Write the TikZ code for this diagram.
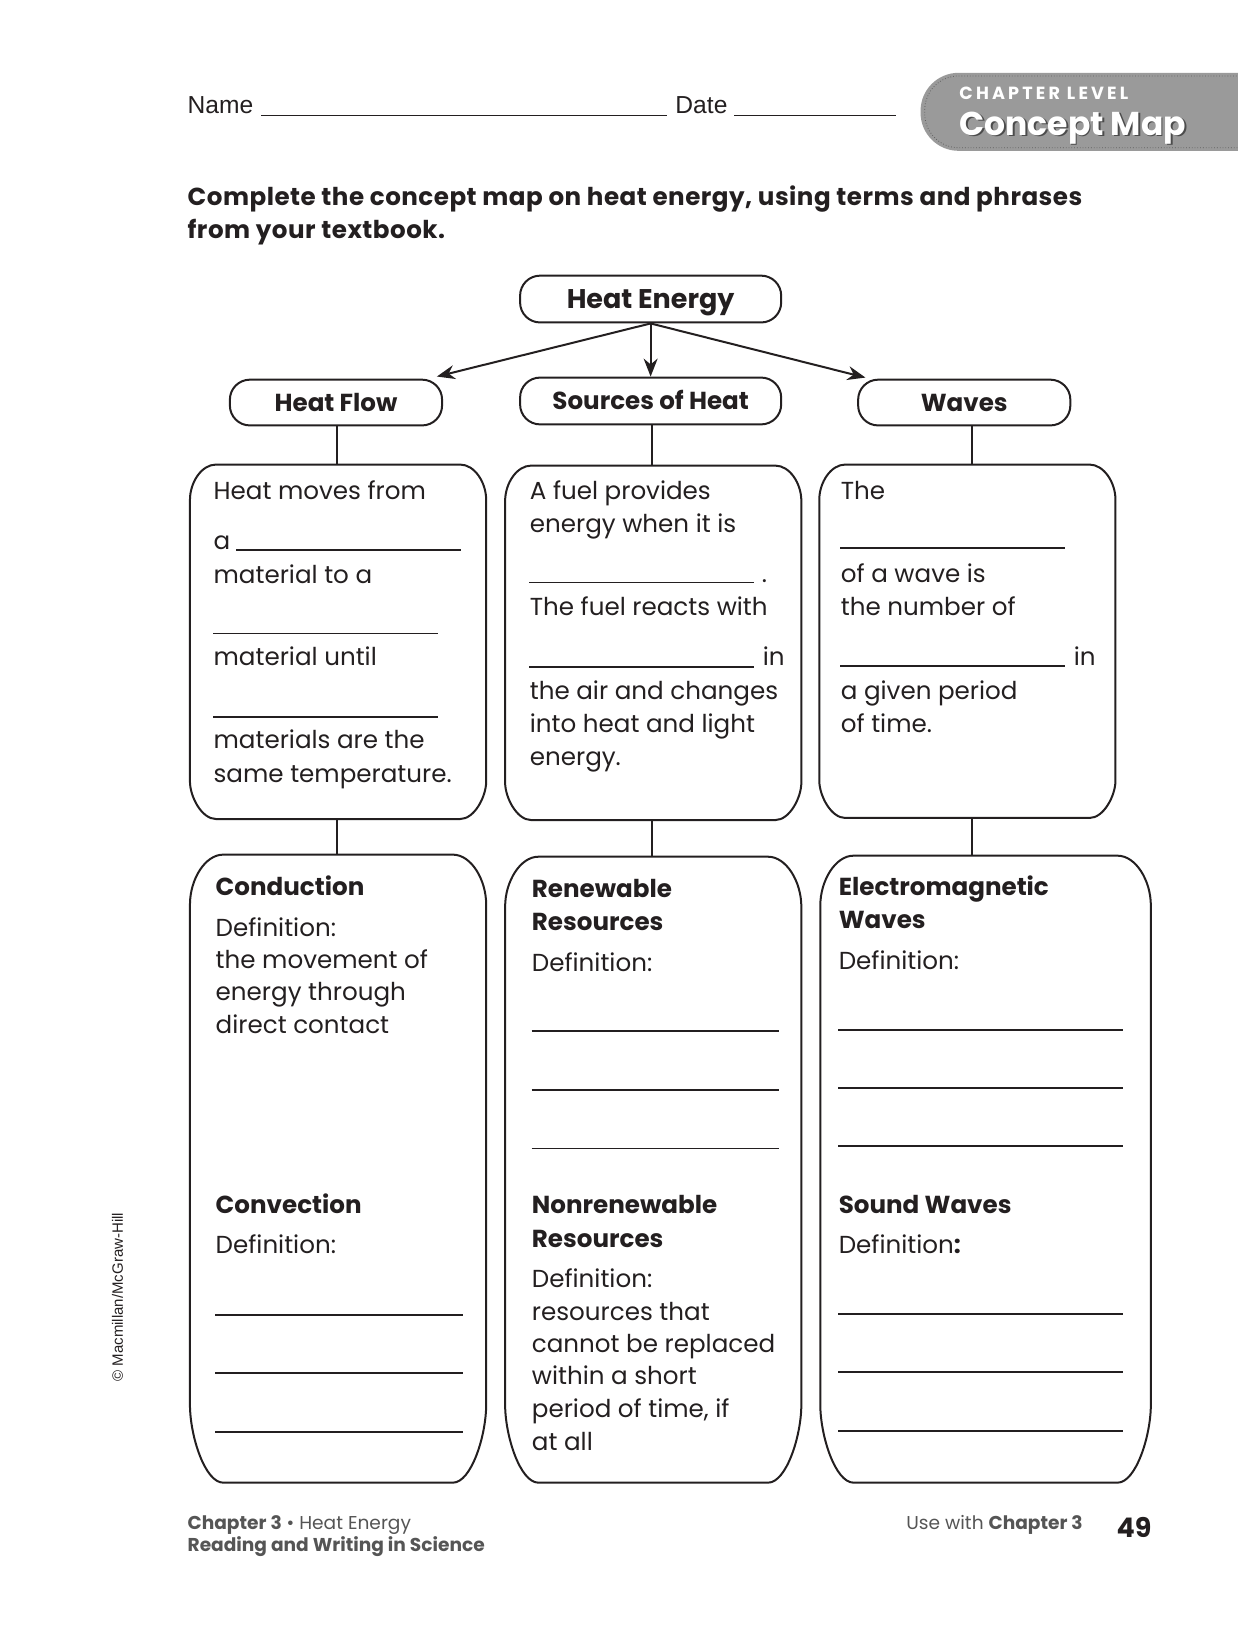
\documentclass[tikz,border=0pt]{standalone}
\usepackage{fontspec}
\setmainfont{Poppins}
\newfontfamily\arialf{Liberation Sans}
\usetikzlibrary{arrows.meta,calc}
\definecolor{ink}{HTML}{231F20}
\definecolor{foot}{HTML}{555555}
\definecolor{tabgray}{HTML}{9A9A9A}
\newcommand\cardpath[4]{% node, rx, ry top, ry bottom
  \draw[conn] ($(#1.north west)+(#2,0)$) -- ($(#1.north east)+(-#2,0)$)
    .. controls ($(#1.north east)+(-0.45*#2,0)$) and ($(#1.north east)+(0,0.5*#3)$) .. ($(#1.north east)+(0,#3)$)
    -- ($(#1.south east)+(0,-#4)$)
    .. controls ($(#1.south east)+(0,-0.6*#4)$) and ($(#1.south east)+(-0.45*#2,0)$) .. ($(#1.south east)+(-#2,0)$)
    -- ($(#1.south west)+(#2,0)$)
    .. controls ($(#1.south west)+(0.45*#2,0)$) and ($(#1.south west)+(0,-0.6*#4)$) .. ($(#1.south west)+(0,-#4)$)
    -- ($(#1.north west)+(0,#3)$)
    .. controls ($(#1.north west)+(0,0.5*#3)$) and ($(#1.north west)+(0.45*#2,0)$) .. cycle;}
\begin{document}
\begin{tikzpicture}[x=0.52017pt,y=-0.52017pt,
  body/.style={anchor=base west,inner sep=0pt,text=ink,font=\fontsize{12.3}{15}\selectfont},
  bhead/.style={anchor=base west,inner sep=0pt,text=ink,font=\fontsize{12.3}{15}\selectfont\bfseries},
  titlebox/.style={draw=ink,line width=1pt,rounded corners=10pt,text=ink,inner sep=0pt,
     text height=8.8pt,text depth=0pt,font=\fontsize{12.3}{15}\selectfont\bfseries},
  cardbox/.style={draw=none,inner sep=0pt},
  blank/.style={draw=ink,line width=0.85pt},
  conn/.style={draw=ink,line width=1pt},
  arr/.style={conn,-{Stealth[length=9pt,width=7pt]}},
  foottext/.style={anchor=base west,inner sep=0pt,text=foot,font=\fontsize{9.3}{11}\selectfont}
]
\useasboundingbox (0,0) rectangle (1190,1568);

% header tab
\fill[tabgray,rounded corners=19pt] (1240,70) -- (885,70) -- (885,145) -- (1240,145) -- cycle;
\draw[gray!75!black,line width=0.4pt,densely dotted,rounded corners=17pt] (1240,73) -- (889,73) -- (889,142) -- (1240,142);
\node[anchor=base west,inner sep=0pt,text=white,font=\fontsize{8.8}{10}\selectfont\bfseries\addfontfeatures{LetterSpace=18}] (chl) at (922,96) {CHAPTER LEVEL};
\node[anchor=base west,inner sep=0pt,text=gray!60!black,font=\fontsize{16.5}{19}\selectfont\bfseries] (cmaps) at (923.5,131.5) {Concept Map};
\node[anchor=base west,inner sep=0pt,text=white,font=\fontsize{16.5}{19}\selectfont\bfseries] (cmap) at (922,130) {Concept Map};

% name / date
\node[anchor=base west,inner sep=0pt,text=ink,font=\arialf\fontsize{12.3}{15}\selectfont] (name) at (180,109) {Name};
\draw[blank] (251,111) -- (641,111);
\node[anchor=base west,inner sep=0pt,text=ink,font=\arialf\fontsize{12.3}{15}\selectfont] (date) at (649,109) {Date};
\draw[blank] (706,111) -- (861,111);

% instructions
\node[anchor=base west,inner sep=0pt,text=ink,font=\fontsize{12.3}{15}\selectfont\bfseries\addfontfeatures{LetterSpace=2}] (ins1) at (180,198) {Complete the concept map on heat energy, using terms and phrases};
\node[anchor=base west,inner sep=0pt,text=ink,font=\fontsize{12.3}{15}\selectfont\bfseries\addfontfeatures{LetterSpace=2}] (ins2) at (180,229) {from your textbook.};

% title boxes
\node[titlebox,minimum width=251*0.52017pt,minimum height=45*0.52017pt,text height=9.7pt,font=\fontsize{13.5}{16}\selectfont\bfseries] (he) at (625.5,287.5) {Heat Energy};
\node[titlebox,minimum width=204*0.52017pt,minimum height=44*0.52017pt] (hf) at (323,387) {Heat Flow};
\node[titlebox,minimum width=251*0.52017pt,minimum height=45*0.52017pt] (src) at (625.5,385.5) {Sources of Heat};
\node[titlebox,minimum width=204*0.52017pt,minimum height=44*0.52017pt] (wav) at (927,387) {Waves};

\draw[arr] (he.south) -- (420,362);
\draw[arr] (he.south) -- (src.north);
\draw[arr] (he.south) -- (832,363);

% middle cards
\node[cardbox,minimum width=284*0.52017pt,minimum height=340*0.52017pt] (m1) at (325,617) {};
\node[cardbox,minimum width=284*0.52017pt,minimum height=340*0.52017pt] (m2) at (628,618) {};
\node[cardbox,minimum width=284*0.52017pt,minimum height=339*0.52017pt] (m3) at (930,616.5) {};
\cardpath{m1}{25}{34}{36}
\cardpath{m2}{25}{34}{36}
\cardpath{m3}{25}{34}{36}

% bottom cards
\node[cardbox,minimum width=284*0.52017pt,minimum height=603*0.52017pt] (b1) at (325,1123.5) {};
\node[cardbox,minimum width=284*0.52017pt,minimum height=601*0.52017pt] (b2) at (628,1124.5) {};
\node[cardbox,minimum width=317*0.52017pt,minimum height=602*0.52017pt] (b3) at (947.5,1124) {};
\cardpath{b1}{32}{48}{75}
\cardpath{b2}{32}{48}{75}
\cardpath{b3}{32}{48}{75}

% vertical connectors
\coordinate (c1) at ($(hf.south)+(1,0)$);
\coordinate (c2) at ($(src.south)+(1.5,0)$);
\coordinate (c3) at ($(wav.south)+(7,0)$);
\draw[conn] (c1) -- (c1 |- m1.north);
\draw[conn] (c2) -- (c2 |- m2.north);
\draw[conn] (c3) -- (c3 |- m3.north);
\draw[conn] (c1 |- m1.south) -- (c1 |- b1.north);
\draw[conn] (c2 |- m2.south) -- (c2 |- b2.north);
\draw[conn] (c3 |- m3.south) -- (c3 |- b3.north);

% middle-left text
\node[body] (t11) at (205,480) {Heat moves from};
\node[body] (t12) at (205,528) {a};
\draw[blank] (227,529) -- (443,529);
\node[body] (t13) at (205,561) {material to a};
\draw[blank] (205,609) -- (421,609);
\node[body] (t14) at (205,640) {material until};
\draw[blank] (205,689) -- (421,689);
\node[body] (t15) at (205,720) {materials are the};
\node[body] (t16) at (205,752) {same temperature.};

% middle-center text
\node[body] (t21) at (509,480) {A fuel provides};
\node[body] (t22) at (509,512) {energy when it is};
\draw[blank] (509,560) -- (725,560);
\node[body] (t23) at (732,560) {.};
\node[body] (t24) at (509,592) {The fuel reacts with};
\draw[blank] (509,641) -- (725,641);
\node[body] (t25) at (733,640) {in};
\node[body] (t26) at (509,672) {the air and changes};
\node[body] (t27) at (509,704) {into heat and light};
\node[body] (t28) at (509,736) {energy.};

% middle-right text
\node[body] (t31) at (808,480) {The};
\draw[blank] (808,527) -- (1024,527);
\node[body] (t32) at (808,560) {of a wave is};
\node[body] (t33) at (808,592) {the number of};
\draw[blank] (808,640) -- (1024,640);
\node[body] (t34) at (1032,640) {in};
\node[body] (t35) at (808,672) {a given period};
\node[body] (t36) at (808,704) {of time.};

% bottom-left
\node[bhead] (u11) at (207,861) {Conduction};
\node[body] (u12) at (207,900) {Definition:};
\node[body] (u13) at (207,931) {the movement of};
\node[body] (u14) at (207,962) {energy through};
\node[body] (u15) at (207,994) {direct contact};
\node[bhead] (u16) at (207,1167) {Convection};
\node[body] (u17) at (207,1205) {Definition:};
\draw[blank] (207,1264) -- (445,1264);
\draw[blank] (207,1320) -- (445,1320);
\draw[blank] (207,1377) -- (445,1377);

% bottom-center
\node[bhead] (u21) at (511,863) {Renewable};
\node[bhead] (u22) at (511,895) {Resources};
\node[body] (u23) at (511,934) {Definition:};
\draw[blank] (511,991) -- (749,991);
\draw[blank] (511,1048) -- (749,1048);
\draw[blank] (511,1104) -- (749,1104);
\node[bhead] (u24) at (511,1167) {Nonrenewable};
\node[bhead] (u25) at (511,1199) {Resources};
\node[body] (u26) at (511,1238) {Definition:};
\node[body] (u27) at (511,1269) {resources that};
\node[body] (u28) at (511,1300) {cannot be replaced};
\node[body] (u29) at (511,1331) {within a short};
\node[body] (u2a) at (511,1363) {period of time, if};
\node[body] (u2b) at (511,1394) {at all};

% bottom-right
\node[bhead] (u31) at (806,861) {Electromagnetic};
\node[bhead] (u32) at (806,893) {Waves};
\node[body] (u33) at (806,932) {Definition:};
\draw[blank] (806,990) -- (1080,990);
\draw[blank] (806,1046) -- (1080,1046);
\draw[blank] (806,1102) -- (1080,1102);
\node[bhead] (u34) at (806,1167) {Sound Waves};
\node[body] (u35) at (806,1205) {Definition\textbf{:}};
\draw[blank] (806,1263) -- (1080,1263);
\draw[blank] (806,1319) -- (1080,1319);
\draw[blank] (806,1376) -- (1080,1376);

% copyright
\node[inner sep=0pt,rotate=90,text=ink,font=\arialf\fontsize{7.5}{9}\selectfont] (copy) at (113,1247) {© Macmillan/McGraw-Hill};

% footer
\node[foottext] (f1) at (180,1470) {\textbf{Chapter 3} • Heat Energy};
\node[foottext] (f2) at (180,1492) {\textbf{Reading and Writing in Science}};
\node[foottext] (f3) at (871,1470) {Use with \textbf{Chapter 3}};
\node[anchor=base west,inner sep=0pt,text=ink,font=\fontsize{13.5}{16}\selectfont\bfseries] (pg) at (1073,1478) {49};
\end{tikzpicture}
\end{document}
